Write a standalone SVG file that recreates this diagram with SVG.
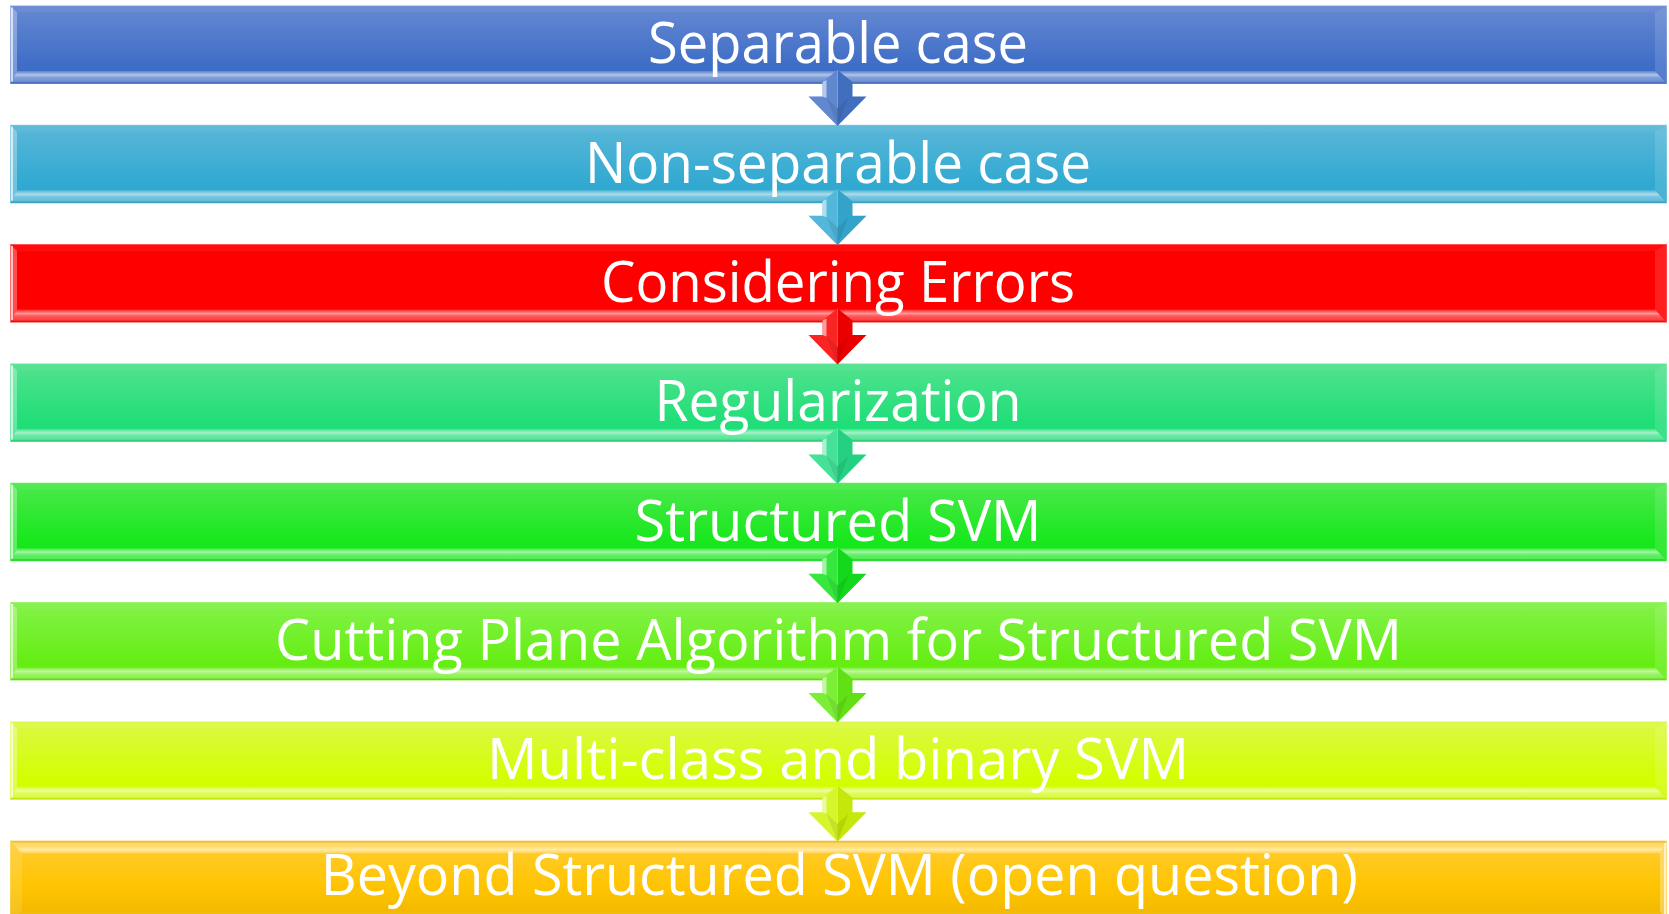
<svg xmlns="http://www.w3.org/2000/svg" xmlns:xlink="http://www.w3.org/1999/xlink" width="1669" height="914" viewBox="0 0 1669 914">
  <style>
    .label { font-family: "Open Sans", "Noto Sans", "Liberation Sans", sans-serif; font-size: 57px; fill: #ffffff; text-anchor: middle; }
    .edge { fill: none; stroke: #ffffff; stroke-opacity: 0.35; stroke-width: 1; }
  </style>
  <defs>
    <!-- vertical fills for the eight steps -->
    <linearGradient id="g1" x1="0" y1="0" x2="0" y2="1">
      <stop offset="0" stop-color="#6688d2"/><stop offset="0.75" stop-color="#3f6ec7"/><stop offset="1" stop-color="#3c6bc5"/>
    </linearGradient>
    <linearGradient id="g2" x1="0" y1="0" x2="0" y2="1">
      <stop offset="0" stop-color="#5ab7d8"/><stop offset="0.75" stop-color="#31a9d1"/><stop offset="1" stop-color="#2fa7cf"/>
    </linearGradient>
    <linearGradient id="g3" x1="0" y1="0" x2="0" y2="1">
      <stop offset="0" stop-color="#ff0000"/><stop offset="1" stop-color="#ff0000"/>
    </linearGradient>
    <linearGradient id="g4" x1="0" y1="0" x2="0" y2="1">
      <stop offset="0" stop-color="#52e28e"/><stop offset="0.75" stop-color="#20de78"/><stop offset="1" stop-color="#1edc76"/>
    </linearGradient>
    <linearGradient id="g5" x1="0" y1="0" x2="0" y2="1">
      <stop offset="0" stop-color="#4de84d"/><stop offset="0.75" stop-color="#17e81c"/><stop offset="1" stop-color="#14e61a"/>
    </linearGradient>
    <linearGradient id="g6" x1="0" y1="0" x2="0" y2="1">
      <stop offset="0" stop-color="#84f24a"/><stop offset="0.75" stop-color="#66ee14"/><stop offset="1" stop-color="#62ec10"/>
    </linearGradient>
    <linearGradient id="g7" x1="0" y1="0" x2="0" y2="1">
      <stop offset="0" stop-color="#dcf846"/><stop offset="0.75" stop-color="#d2ff00"/><stop offset="1" stop-color="#cef800"/>
    </linearGradient>
    <linearGradient id="g8" x1="0" y1="0" x2="0" y2="1">
      <stop offset="0" stop-color="#ffcc33"/><stop offset="0.6" stop-color="#ffc400"/><stop offset="1" stop-color="#efb600"/>
    </linearGradient>

    <!-- banded highlight of the lower bevel -->
    <linearGradient id="bevB" x1="0" y1="0" x2="0" y2="1">
      <stop offset="0" stop-color="#ffffff" stop-opacity="0.15"/>
      <stop offset="0.3" stop-color="#ffffff" stop-opacity="0.6"/>
      <stop offset="0.5" stop-color="#ffffff" stop-opacity="0.35"/>
      <stop offset="0.8" stop-color="#ffffff" stop-opacity="0.25"/>
      <stop offset="1" stop-color="#000000" stop-opacity="0.06"/>
    </linearGradient>

    <!-- bevel overlay in step-local coordinates (step is 1657 x 78.5) -->
    <g id="bevel">
      <polygon points="10,0 1667,0 1655,7 17,7" fill="#ffffff" fill-opacity="0.05"/>
      <polygon points="10,0 17,7 17,65.5 10,78.5" fill="#ffffff" fill-opacity="0.3"/>
      <line x1="12" y1="2" x2="12" y2="76" stroke="#ffffff" stroke-opacity="0.85" stroke-width="1.6"/>
      <polygon points="10,78.5 17,65.5 1655,65.5 1667,78.5" fill="url(#bevB)"/>
      <polygon points="1667,0 1655,7 1655,65.5 1667,78.5" fill="#ffffff" fill-opacity="0.12"/>
      <rect x="10" y="0" width="1657" height="78.5" class="edge"/>
    </g>

    <!-- facet shading of a down arrow, apex at (0,0) -->
    <g id="arrow-shade">
      <polygon points="0,0 -15,12 -15,26.5 -29,26.5 0,56" fill="#ffffff" fill-opacity="0.14"/>
      <polygon points="0,0 15,12 15,26.5 29,26.5 0,56" fill="#000000" fill-opacity="0.05"/>
      <polygon points="-15,12 -11,10 -11,28 -15,26.5" fill="#ffffff" fill-opacity="0.55"/>
      <polygon points="-11,28 0,38 11,28 0,56" fill="#000000" fill-opacity="0.08"/>
      <line x1="0" y1="0" x2="0" y2="38" stroke="#ffffff" stroke-opacity="0.25" stroke-width="1"/>
    </g>
    <polygon id="arrow" points="0,0 15,12 15,26.5 29,26.5 0,56 -29,26.5 -15,26.5 -15,12"/>
  </defs>

  <rect width="1669" height="914" fill="#ffffff"/>

  <g id="step-1" transform="translate(0,5.5)">
    <rect x="10" y="0" width="1657" height="78.5" fill="url(#g1)"/>
    <use xlink:href="#bevel"/>
    <text class="label" x="838" y="57.8" textLength="380" lengthAdjust="spacingAndGlyphs">Separable case</text>
  </g>
  <g id="step-2" transform="translate(0,124.8)">
    <rect x="10" y="0" width="1657" height="78.5" fill="url(#g2)"/>
    <use xlink:href="#bevel"/>
    <text class="label" x="838" y="57.8" textLength="506" lengthAdjust="spacingAndGlyphs">Non-separable case</text>
  </g>
  <g id="step-3" transform="translate(0,244.1)">
    <rect x="10" y="0" width="1657" height="78.5" fill="url(#g3)"/>
    <use xlink:href="#bevel"/>
    <text class="label" x="838" y="57.8" textLength="474" lengthAdjust="spacingAndGlyphs">Considering Errors</text>
  </g>
  <g id="step-4" transform="translate(0,363.4)">
    <rect x="10" y="0" width="1657" height="78.5" fill="url(#g4)"/>
    <use xlink:href="#bevel"/>
    <text class="label" x="838" y="57.8" textLength="367" lengthAdjust="spacingAndGlyphs">Regularization</text>
  </g>
  <g id="step-5" transform="translate(0,482.7)">
    <rect x="10" y="0" width="1657" height="78.5" fill="url(#g5)"/>
    <use xlink:href="#bevel"/>
    <text class="label" x="838" y="57.8" textLength="407" lengthAdjust="spacingAndGlyphs">Structured SVM</text>
  </g>
  <g id="step-6" transform="translate(0,602)">
    <rect x="10" y="0" width="1657" height="78.5" fill="url(#g6)"/>
    <use xlink:href="#bevel"/>
    <text class="label" x="838.5" y="57.8" textLength="1127" lengthAdjust="spacingAndGlyphs">Cutting Plane Algorithm for Structured SVM</text>
  </g>
  <g id="step-7" transform="translate(0,721.3)">
    <rect x="10" y="0" width="1657" height="78.5" fill="url(#g7)"/>
    <use xlink:href="#bevel"/>
    <text class="label" x="838" y="57.8" textLength="702" lengthAdjust="spacingAndGlyphs">Multi-class and binary SVM</text>
  </g>
  <g id="step-8" transform="translate(0,840.6)">
    <rect x="10" y="0" width="1657" height="78.5" fill="url(#g8)"/>
    <use xlink:href="#bevel" transform="rotate(180 838.5 39.25)"/>
    <text class="label" x="839.3" y="54.4" textLength="1037" lengthAdjust="spacingAndGlyphs">Beyond Structured SVM (open question)</text>
  </g>

  <g id="connectors">
    <g transform="translate(837.5,70)"><use xlink:href="#arrow" fill="#4675c8"/><use xlink:href="#arrow-shade"/></g>
    <g transform="translate(837.5,189.3)"><use xlink:href="#arrow" fill="#36acd4"/><use xlink:href="#arrow-shade"/></g>
    <g transform="translate(837.5,308.6)"><use xlink:href="#arrow" fill="#f80000"/><use xlink:href="#arrow-shade"/></g>
    <g transform="translate(837.5,427.9)"><use xlink:href="#arrow" fill="#28dc88"/><use xlink:href="#arrow-shade"/></g>
    <g transform="translate(837.5,547.2)"><use xlink:href="#arrow" fill="#16e41e"/><use xlink:href="#arrow-shade"/></g>
    <g transform="translate(837.5,666.5)"><use xlink:href="#arrow" fill="#68ec18"/><use xlink:href="#arrow-shade"/></g>
    <g transform="translate(837.5,785.8)"><use xlink:href="#arrow" fill="#d0f40a"/><use xlink:href="#arrow-shade"/></g>
  </g>
</svg>
